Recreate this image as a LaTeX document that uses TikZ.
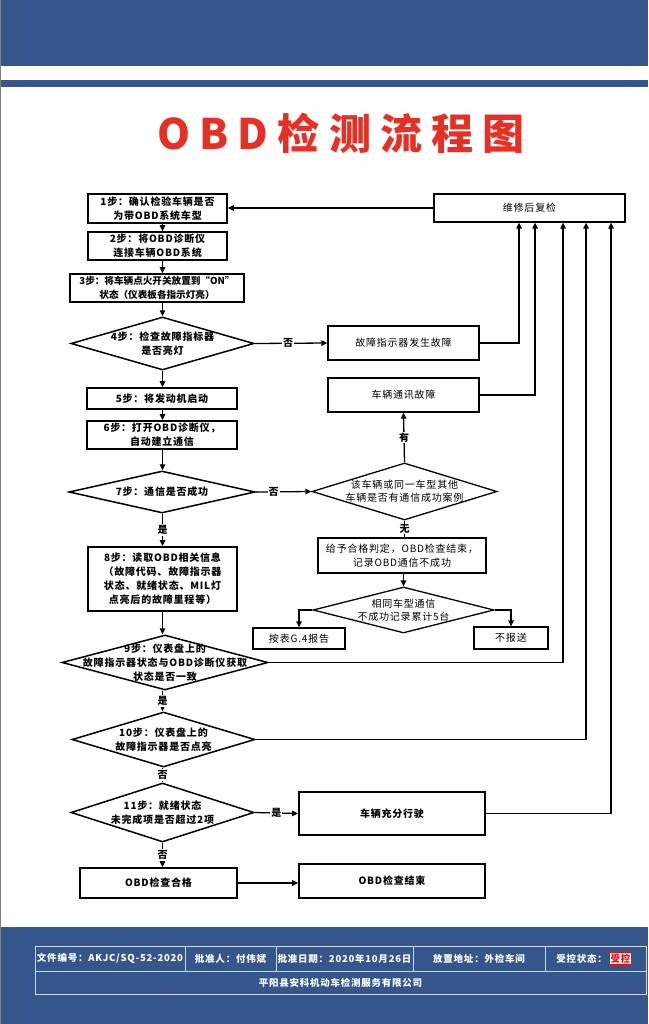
\documentclass[tikz,border=0pt]{standalone}
\usepackage{fontspec}
\setmainfont{Noto Sans CJK SC}
\newfontfamily\cjk[LetterSpace=8]{Noto Sans CJK SC}
\newfontfamily\cjktight[LetterSpace=0]{Noto Sans CJK SC}
\newfontfamily\titlefont[LetterSpace=22]{Noto Sans CJK SC}
\usetikzlibrary{arrows.meta,shapes.geometric}
\definecolor{hdrblue}{RGB}{52,86,139}
\definecolor{titlered}{RGB}{230,48,38}
\definecolor{tblline}{RGB}{205,214,232}
\tikzset{
  box/.style={draw, line width=1.6pt, rectangle, inner sep=0pt, align=center,
    font=\cjk\bfseries\fontsize{10}{14}\selectfont},
  rbox/.style={draw, line width=1.3pt, rectangle, inner sep=0pt, align=center,
    font=\cjk\fontsize{10}{14}\selectfont},
  dia/.style={draw, line width=1.5pt, diamond, inner sep=0pt},
  dtxt/.style={align=center, inner sep=0pt, font=\cjk\bfseries\fontsize{10}{14}\selectfont},
  rdtxt/.style={align=center, inner sep=0pt, font=\cjk\fontsize{10}{13}\selectfont},
  arr/.style={line width=1.3pt, -{Triangle[length=6pt,width=5.5pt]}},
  plain/.style={line width=1.3pt},
  lbl/.style={fill=white, inner sep=1pt, font=\cjk\bfseries\fontsize{10}{12}\selectfont},
  foot/.style={text=white, inner sep=0pt, font=\cjk\bfseries\fontsize{9.5}{11}\selectfont}
}
\begin{document}
\begin{tikzpicture}[x=1pt,y=-1pt]
\useasboundingbox (0,0) rectangle (648,1024);
% header and footer bands
\fill[white] (0,0) rectangle (648,1024);
\fill[hdrblue] (0,0) rectangle (648,66);
\fill[hdrblue] (0,80) rectangle (648,87);
\fill[hdrblue] (0,927) rectangle (648,1024);
\draw[gray, line width=1pt] (0.5,0) -- (0.5,1024);
% title
\node[text=titlered, font=\titlefont\bfseries\fontsize{42}{42}\selectfont, inner sep=0pt] (title) at (341,133) {OBD检测流程图};

% left column
\node[box, minimum width=139, minimum height=29] (b1) at (157.5,208.5) {1步：确认检验车辆是否\\为带OBD系统车型};
\node[box, minimum width=139, minimum height=28] (b2) at (157.5,246) {2步：将OBD诊断仪\\连接车辆OBD系统};
\node[box, minimum width=174, minimum height=28, font=\cjktight\bfseries\fontsize{9.6}{14}\selectfont] (b3) at (157,288) {3步：将车辆点火开关放置到“ON”\\状态（仪表板各指示灯亮）};
\node[dia, minimum width=183, minimum height=53] (d4) at (162.5,343.5) {};
\node[dtxt] (d4t) at (d4.center) {4步：检查故障指标器\\是否亮灯};
\node[box, minimum width=150, minimum height=21] (b5) at (162,398.5) {5步：将发动机启动};
\node[box, minimum width=150, minimum height=28] (b6) at (162,435) {6步：打开OBD诊断仪，\\自动建立通信};
\node[dia, minimum width=186, minimum height=42] (d7) at (162,492) {};
\node[dtxt] (d7t) at (d7.center) {7步：通信是否成功};
\node[box, minimum width=149, minimum height=64] (b8) at (162.5,579) {8步：读取OBD相关信息\\（故障代码、故障指示器\\状态、就绪状态、MIL灯\\点亮后的故障里程等）};
\node[dia, minimum width=206, minimum height=55] (d9) at (165,662.5) {};
\node[dtxt] (d9t) at (d9.center) {9步：仪表盘上的\\故障指示器状态与OBD诊断仪获取\\状态是否一致};
\node[dia, minimum width=183, minimum height=55] (d10) at (163.5,739.5) {};
\node[dtxt] (d10t) at (d10.center) {10步：仪表盘上的\\故障指示器是否点亮};
\node[dia, minimum width=183, minimum height=59] (d11) at (162.5,812.5) {};
\node[dtxt] (d11t) at (d11.center) {11步：就绪状态\\未完成项是否超过2项};
\node[box, minimum width=157, minimum height=30] (ok) at (158.5,883) {OBD检查合格};
\node[box, minimum width=186, minimum height=34] (end) at (392,881) {OBD检查结束};
\node[box, minimum width=186, minimum height=43] (drive) at (392,813.5) {车辆充分行驶};

% right column
\node[rbox, minimum width=191, minimum height=28] (r) at (529.5,208) {维修后复检};
\node[rbox, minimum width=151, minimum height=34] (f1) at (403.5,343) {故障指示器发生故障};
\node[rbox, minimum width=151, minimum height=34] (f2) at (403.5,395) {车辆通讯故障};
\node[dia, line width=1.3pt, minimum width=185, minimum height=57] (dc) at (404.5,491.5) {};
\node[rdtxt] (dct) at (dc.center) {该车辆或同一车型其他\\车辆是否有通信成功案例};
\node[rbox, minimum width=168, minimum height=35] (g) at (402,555.5) {给予合格判定，OBD检查结束，\\记录OBD通信不成功};
\node[dia, line width=1.3pt, minimum width=181, minimum height=46] (ds) at (403.5,610) {};
\node[rdtxt] (dst) at (ds.center) {相同车型通信\\不成功记录累计5台};
\node[rbox, minimum width=92, minimum height=21] (rep) at (299,638.5) {按表G.4报告};
\node[rbox, minimum width=74, minimum height=22] (no) at (511,638) {不报送};

% main column connectors
\draw[arr] (b1.south -| d4) -- (b2.north -| d4);
\draw[arr] (b2.south -| d4) -- (b3.north -| d4);
\draw[arr] (b3.south -| d4) -- (d4.north);
\draw[arr] (d4.south) -- (b5.north -| d4);
\draw[arr] (b5.south -| d4) -- (b6.north -| d4);
\draw[arr] (b6.south -| d4) -- (d7.north -| d4);
\draw[arr] (d7.south -| d4) -- node[lbl] (l7) {是} (b8.north -| d4);
\draw[arr] (b8.south -| d4) -- (d9.north -| d4);
\draw[arr] (d9.south -| d4) -- node[lbl] (l9) {是} (d10.north -| d4);
\draw[arr] (d10.south -| d4) -- node[lbl] (l10) {否} (d11.north -| d4);
\draw[arr] (d11.south) -- node[lbl] (l11) {否} (ok.north -| d11);
\draw[arr] (ok.east) -- (ok.east -| end.west);
\draw[arr] (d11.east) -- node[lbl] (l11b) {是} (drive.west);

% branches to the right
\draw[arr] (d4.east) -- node[lbl, pos=0.46] (l4) {否} (f1.west);
\draw[arr] (d7.east) -- node[lbl, pos=0.32] (l7b) {否} (dc.west);
\draw[arr] (dc.north) -- node[lbl] (lc1) {有} (f2.south);
\draw[plain] (dc.south) -- node[lbl] (lc2) {无} (g.north -| dc);
\draw[arr] (g.south -| ds) -- (ds.north);
\draw[arr] (ds.west) -| (rep.north);
\draw[arr] (ds.east) -| (no.north);

% returns to re-inspection
\draw[arr] (f1.east) -| ([xshift=-10.5pt]r.south);
\draw[arr] (f2.east) -| ([xshift=5.5pt]r.south);
\draw[arr] (d9.east) -| ([xshift=33.5pt]r.south);
\draw[arr] (d10.east) -| ([xshift=56.5pt]r.south);
\draw[arr] (drive.east) -| ([xshift=81.5pt]r.south);
\draw[arr] (r.west) -- (r.west -| b1.east);

% footer table
\draw[tblline, line width=1pt] (35,946) rectangle (646,994);
\draw[tblline, line width=1pt] (35,971) -- (646,971);
\foreach \xx in {185,276,413,545} \draw[tblline, line width=1pt] (\xx,946) -- (\xx,971);
\node[foot] (f_no) at (110,958.5) {文件编号：AKJC/SQ-52-2020};
\node[foot] (f_ap) at (230.5,958.5) {批准人：付伟斌};
\node[foot] (f_dt) at (344.5,958.5) {批准日期：2020年10月26日};
\node[foot] (f_ad) at (479,958.5) {放置地址：外检车间};
\node[foot, anchor=east] (f_st) at (607,958.5) {受控状态：};
\node[draw=red, fill=white, text=red, line width=0.8pt, inner sep=1.5pt, font=\cjk\bfseries\fontsize{9.5}{11}\selectfont] (f_ctl) at (620.5,958.5) {受控};
\node[foot] (f_co) at (340.5,982.5) {平阳县安科机动车检测服务有限公司};
\end{tikzpicture}
\end{document}
